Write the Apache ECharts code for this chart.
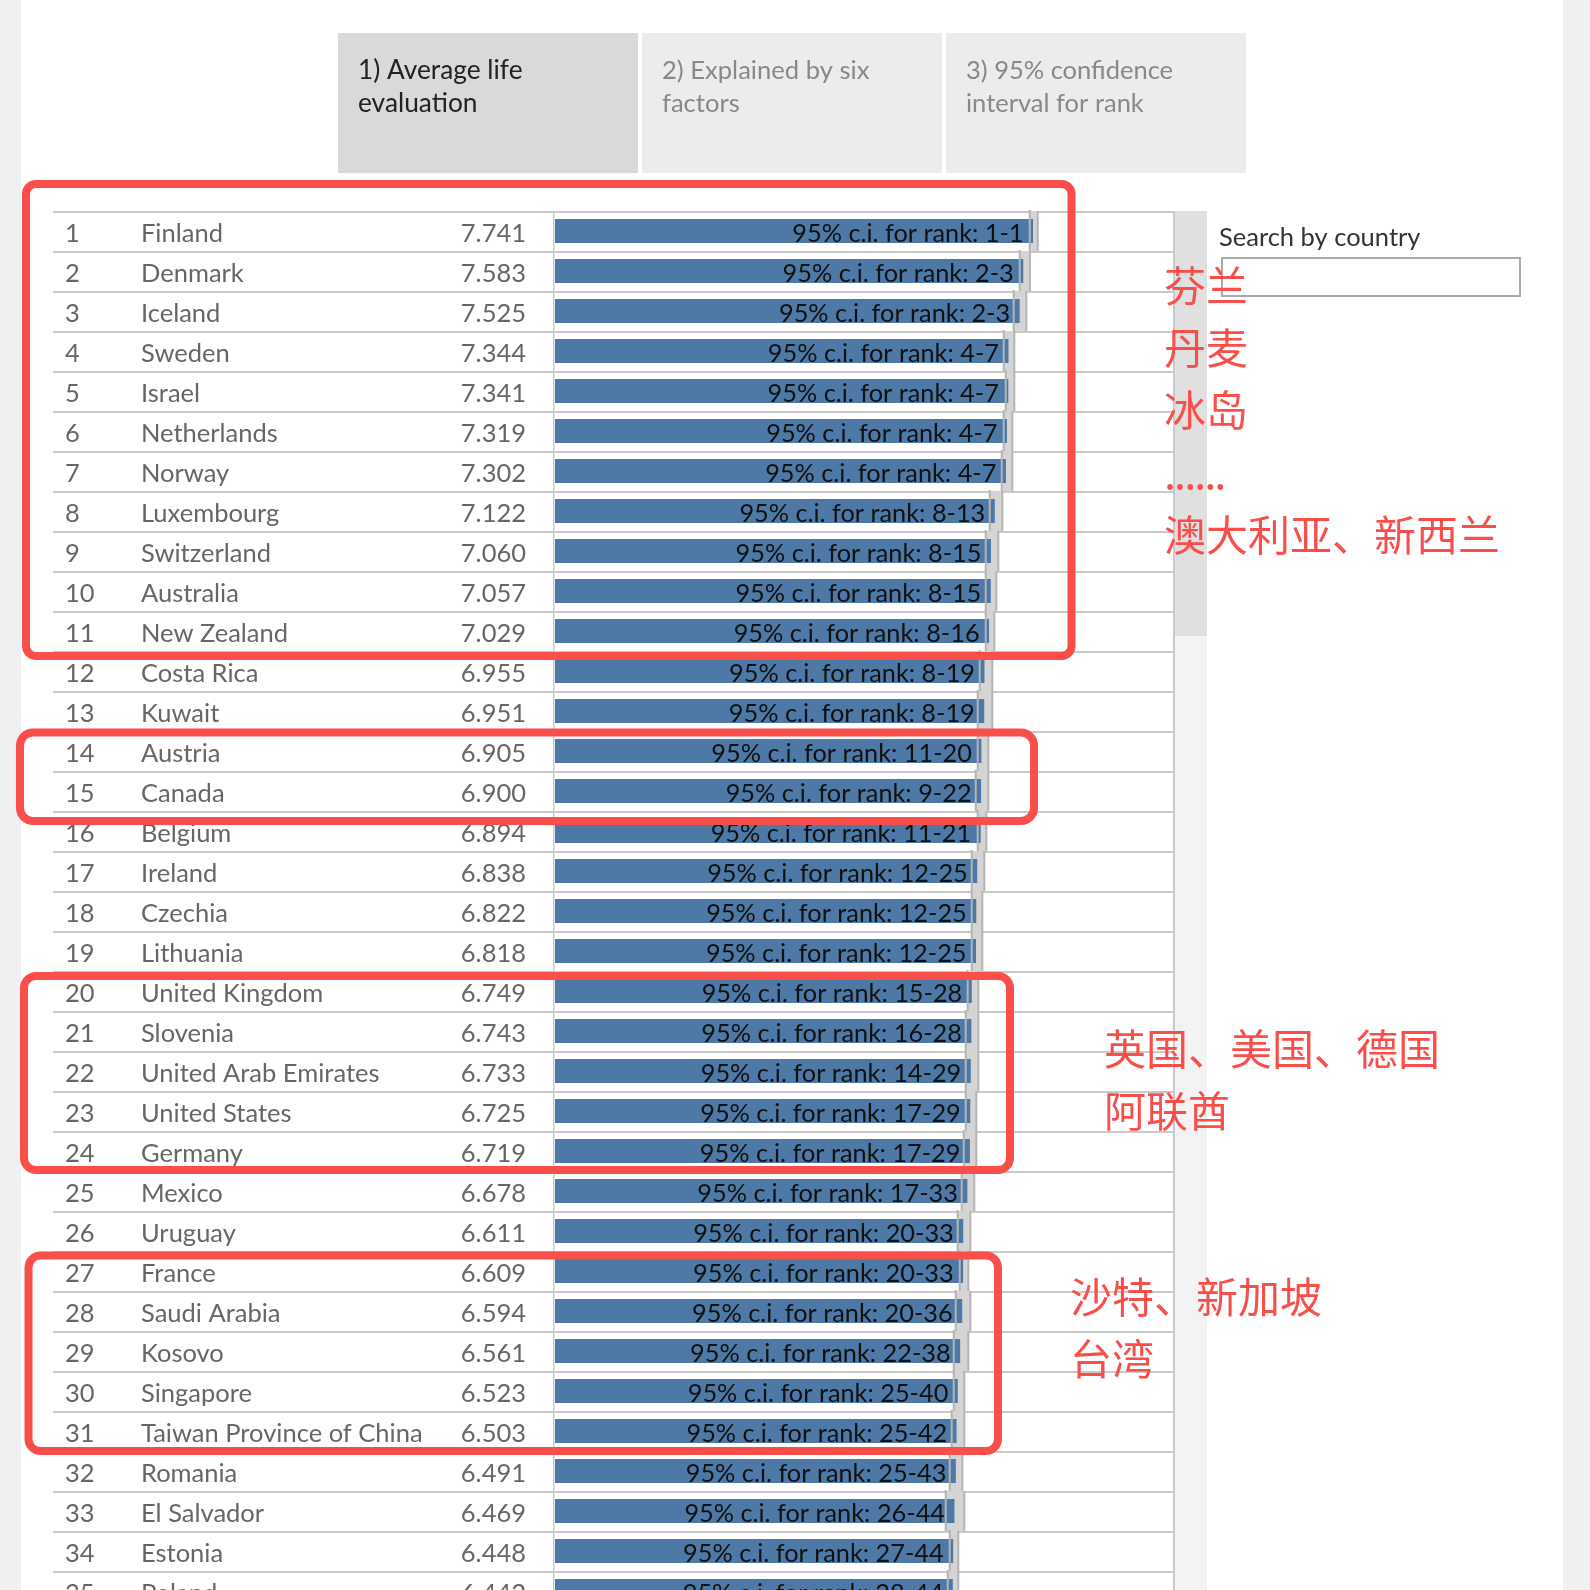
<!DOCTYPE html>
<html><head><meta charset="utf-8">
<style>html,body{margin:0;padding:0;background:#fff}#c{width:1590px;height:1590px}</style>
<script src="https://cdn.jsdelivr.net/npm/echarts@6/dist/echarts.min.js"></script>
</head><body><div id="c"></div>
<script>
const ranks=['1','2','3','4','5','6','7','8','9','10','11','12','13','14','15','16','17','18','19','20','21','22','23','24','25','26','27','28','29','30','31','32','33','34','35'];
const countries=['Finland','Denmark','Iceland','Sweden','Israel','Netherlands','Norway','Luxembourg','Switzerland','Australia','New Zealand','Costa Rica','Kuwait','Austria','Canada','Belgium','Ireland','Czechia','Lithuania','United Kingdom','Slovenia','United Arab Emirates','United States','Germany','Mexico','Uruguay','France','Saudi Arabia','Kosovo','Singapore','Taiwan Province of China','Romania','El Salvador','Estonia','Poland'];
const scores=[7.741,7.583,7.525,7.344,7.341,7.319,7.302,7.122,7.060,7.057,7.029,6.955,6.951,6.905,6.900,6.894,6.838,6.822,6.818,6.749,6.743,6.733,6.725,6.719,6.678,6.611,6.609,6.594,6.561,6.523,6.503,6.491,6.469,6.448,6.442];
const ciLow=[7.688,7.526,7.428,7.266,7.299,7.266,7.234,7.040,6.975,6.975,6.975,6.878,6.845,6.845,6.813,6.845,6.748,6.748,6.748,6.683,6.651,6.651,6.651,6.619,6.586,6.521,6.554,6.489,6.457,6.457,6.424,6.392,6.327,6.392,6.360];
const ciHigh=[7.817,7.692,7.632,7.438,7.438,7.406,7.406,7.244,7.179,7.147,7.114,7.082,7.082,7.017,7.017,6.985,6.952,6.920,6.920,6.855,6.855,6.855,6.823,6.823,6.790,6.725,6.693,6.725,6.693,6.628,6.628,6.596,6.628,6.531,6.531];
const ciRanks=['1-1','2-3','2-3','4-7','4-7','4-7','4-7','8-13','8-15','8-15','8-16','8-19','8-19','11-20','9-22','11-21','12-25','12-25','12-25','15-28','16-28','14-29','17-29','17-29','17-33','20-33','20-33','20-36','22-38','25-40','25-42','25-43','26-44','27-44','28-44'];
const tabs=['1) Average life\nevaluation','2) Explained by six\nfactors','3) 95% confidence\ninterval for rank'];
const notes=[['芬兰',1164,286],['丹麦',1164,348],['冰岛',1164,410],['澳大利亚、新西兰',1164,535],['英国、美国、德国',1104,1049],['阿联酋',1104,1111],['沙特、新加坡',1070,1297],['台湾',1070,1359]];

const FONT='Lato';
const FS=25.5;
const RED='#f84f4b';
const LINE='#c9c9c9';
const chart=echarts.init(document.getElementById('c'),null,{renderer:'canvas'});
const lineStyle={color:LINE,width:2};
function labelAxis(data,margin,align){
  return {type:'category',gridIndex:2,inverse:true,data,position:'left',
    axisLine:{show:false},axisTick:{show:false},splitLine:{show:false},
    axisLabel:{show:true,interval:0,margin,align,color:'#666',fontFamily:FONT,fontSize:FS}};
}
function rect(x,y,w,h,fill,z){return {type:'rect',silent:true,z:z||0,shape:{x,y,width:w,height:h},style:{fill}};}
function frame(x,y,w,h,r){return {type:'rect',silent:true,z:50,shape:{x,y,width:w,height:h,r},style:{fill:'none',stroke:RED,lineWidth:8}};}
function txt(t,x,y,size,fill,extra){return {type:'text',silent:true,z:60,x,y,style:Object.assign({text:t,fontFamily:FONT,fontSize:size,fill,verticalAlign:'middle'},extra||{})};}
const graphic=[
  rect(0,0,21,1590,'#f0f0f0'),rect(1563,0,27,1590,'#f0f0f0'),
  rect(338,33,300,140,'#d9d9d9'),rect(642,33,300,140,'#ececec'),rect(946,33,300,140,'#ececec'),
  rect(1175,211,32,1379,'#f3f3f3'),rect(1175,211,32,425,'#e0e0e0'),
  rect(553,211,1.5,1379,LINE,1),rect(1173,211,2,1379,LINE,1),
  txt(tabs[0],358,87.5,26.3,'#222',{lineHeight:33}),txt(tabs[1],662,87.5,25.6,'#888',{lineHeight:33}),txt(tabs[2],966,87.5,25.5,'#888',{lineHeight:33}),
  txt('Search by country',1219,238,25.5,'#333'),
  {type:'rect',silent:true,z:10,shape:{x:1222,y:258,width:298,height:38},style:{fill:'#fff',stroke:'#aaa',lineWidth:2}},
  frame(26,184,1045.5,472,10),frame(20,732.5,1014,88.5,13),frame(24,976,986,194,12),frame(28.5,1255.5,969.5,195.5,12),
  txt('......',1165,478,31,RED,{fontFamily:'Noto Sans CJK SC',fontWeight:700})
];
notes.forEach(n=>graphic.push(txt(n[0],n[1],n[2],42,RED,{fontFamily:'Noto Sans CJK SC'})));

function fillItem(p,api){
  const lo=api.coord([api.value(1),api.value(0)]),hi=api.coord([api.value(2),api.value(0)]);
  const rh=api.size([0,1])[1];
  return {type:'rect',shape:{x:lo[0],y:lo[1]-rh/2,width:hi[0]-lo[0],height:rh},style:{fill:'#d4d4d4'}};
}
function edgeItem(p,api){
  const lo=api.coord([api.value(1),api.value(0)]),hi=api.coord([api.value(2),api.value(0)]);
  const rh=api.size([0,1])[1],top=lo[1]-rh/2;
  return {type:'group',children:[
    {type:'rect',shape:{x:lo[0]-1,y:top-1,width:2,height:rh+1},style:{fill:'#b4b4b4'}},
    {type:'rect',shape:{x:hi[0]-1,y:top,width:2,height:rh},style:{fill:'#b4b4b4'}}
  ]};
}
const ciData=ranks.map((r,i)=>[i,ciLow[i],ciHigh[i]]);
chart.setOption({
  animation:false,backgroundColor:'#fff',textStyle:{fontFamily:FONT},
  graphic,
  grid:[
    {left:53,top:212,width:1121,height:1400,outerBoundsMode:'none',containLabel:false},
    {left:555,top:211,width:619,height:1400,outerBoundsMode:'none',containLabel:false},
    {left:53,top:213.5,width:501,height:1400,outerBoundsMode:'none',containLabel:false}
  ],
  xAxis:[
    {type:'value',gridIndex:0,min:0,max:1,show:false},
    {type:'value',gridIndex:1,min:0,max:10.024,show:false},
    {type:'value',gridIndex:2,min:0,max:1,show:false}
  ],
  yAxis:[
    {type:'category',gridIndex:0,inverse:true,data:ranks,axisLine:{show:false},axisTick:{show:false},axisLabel:{show:false},splitLine:{show:true,interval:0,lineStyle}},
    labelAxis(ranks,-12,'left'),
    labelAxis(countries,-88,'left'),
    labelAxis(scores.map(v=>v.toFixed(3)),-473,'right'),
    {type:'category',gridIndex:1,inverse:true,data:countries,axisLine:{show:false},axisTick:{show:false},axisLabel:{show:false},splitLine:{show:false}}
  ],
  series:[
    {type:'custom',name:'ci band',xAxisIndex:1,yAxisIndex:4,z:2,renderItem:fillItem,data:ciData,encode:{x:[1,2],y:0},clip:false},
    {type:'bar',name:'score',xAxisIndex:1,yAxisIndex:4,z:3,barWidth:24,data:scores,itemStyle:{color:'#4e79a7'},
     label:{show:true,position:'insideRight',distance:9.5,offset:[0,2.5],fontFamily:FONT,fontSize:25.3,color:'#111',
       formatter:p=>'95% c.i. for rank: '+ciRanks[p.dataIndex]}},
    {type:'custom',name:'ci edges',xAxisIndex:1,yAxisIndex:4,z:4,renderItem:edgeItem,data:ciData,encode:{x:[1,2],y:0},clip:false}
  ]
});
</script></body></html>
